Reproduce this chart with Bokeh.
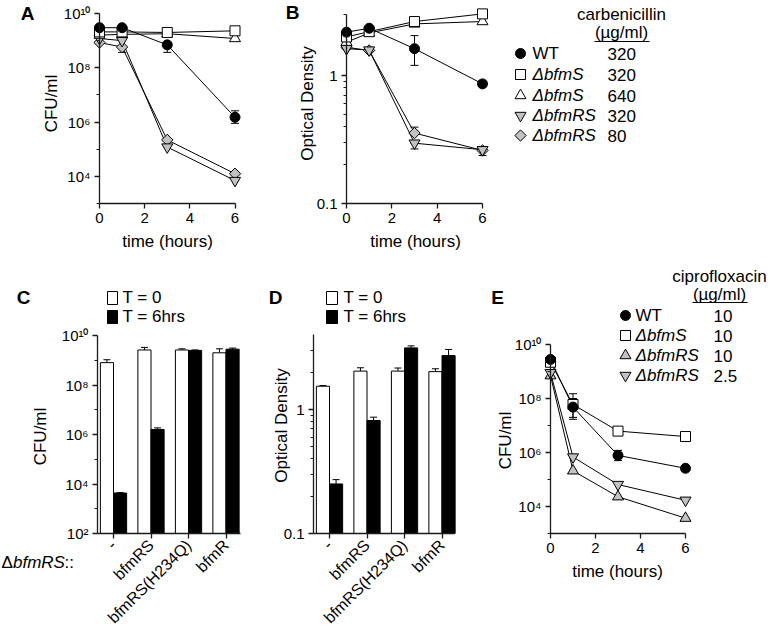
import math
from bokeh.plotting import figure
from bokeh.layouts import row, column
from bokeh.models import Range1d, LinearAxis, LogAxis, FixedTicker, Whisker, TeeHead, ColumnDataSource
from bokeh.core.properties import value
from bokeh.embed import file_html
from bokeh.resources import INLINE

FONT = "Liberation Sans"
GRAY = "#c2c2c2"
INK = "#1a1a1a"

# ---------------- data ----------------
time_h = [0, 1, 3, 6]

# Panel A: CFU/ml, carbenicillin
cfu_wt = [3.0e9, 3.0e9, 7.0e8, 1.5e6]
cfu_s320 = [2.1e9, 2.1e9, 2.0e9, 2.3e9]
cfu_s640 = [1.6e9, 1.7e9, 1.8e9, 1.2e9]
cfu_rs320 = [1.2e9, 1.0e9, 1.2e5, 7.0e3]
cfu_rs80 = [8.5e8, 5.8e8, 2.2e5, 1.25e4]
cfu_wt_lo = [None, None, 3.7e8, 9.0e5]
cfu_wt_hi = [None, None, None, 2.6e6]
cfu_rs80_lo = [None, 3.7e8, None, None]
cfu_rs80_hi = [None, None, None, None]

# Panel B: optical density, carbenicillin
od_wt = [2.18, 2.34, 1.62, 0.86]
od_s320 = [2.0, 2.2, 2.64, 3.03]
od_s640 = [1.82, 2.15, 2.53, 2.64]
od_rs320 = [1.62, 1.58, 0.296, 0.263]
od_rs80 = [1.66, 1.57, 0.355, 0.26]
od_wt_lo = [None, None, 1.2, None]
od_wt_hi = [None, None, 2.05, None]
od_rs320_lo = [None, None, 0.267, 0.237]
od_rs80_hi = [None, None, 0.395, None]

carb_strains = ["WT", "\u0394bfmS", "\u0394bfmS", "\u0394bfmRS", "\u0394bfmRS"]
carb_conc = ["320", "320", "640", "320", "80"]

# Panels C / D: complementation bars
strain_idx = [1, 2, 3, 4]
strain_labels = ["-", "bfmRS", "bfmRS(H234Q)", "bfmR"]
bar_cfu_t0 = [8.0e8, 2.6e9, 2.6e9, 2.0e9]
bar_cfu_t0_err = [1.05e9, 3.3e9, 2.9e9, 2.9e9]
bar_cfu_t6 = [4.3e3, 1.6e6, 2.5e9, 2.8e9]
bar_cfu_t6_err = [4.5e3, 1.85e6, 2.6e9, 3.1e9]
bar_od_t0 = [1.54, 2.04, 2.04, 2.02]
bar_od_t0_err = [1.56, 2.17, 2.16, 2.13]
bar_od_t6 = [0.251, 0.815, 3.14, 2.72]
bar_od_t6_err = [0.272, 0.867, 3.26, 3.05]

# Panel E: ciprofloxacin
cip_wt = [2.8e9, 4.8e7, 7.8e5, 2.6e5]
cip_s = [2.2e9, 6.0e7, 6.2e6, 3.9e6]
cip_rs10 = [7.0e8, 2.1e5, 2.3e4, 3.7e3]
cip_rs25 = [9.0e8, 6.8e5, 6.5e4, 1.7e4]
cip_wt_lo = [None, 1.7e7, 5.0e5, None]
cip_wt_hi = [None, 1.0e8, 1.2e6, None]
cip_s_lo = [None, 2.0e7, None, None]
cip_s_hi = [None, 1.5e8, None, None]
cip_strains = ["WT", "\u0394bfmS", "\u0394bfmRS", "\u0394bfmRS"]
cip_conc = ["10", "10", "10", "2.5"]

time_ticks = [0, 2, 4, 6]
cfu_ticks = [1e4, 1e6, 1e8, 1e10]
cfu_ticks_c = [1e2, 1e4, 1e6, 1e8, 1e10]
cfu_minor = [1e3, 1e5, 1e7, 1e9]
cfu_tick_text = {1e2: "10\u00b2", 1e4: "10\u2074", 1e6: "10\u2076", 1e8: "10\u2078", 1e10: "10\u00b9\u2070"}
od_ticks = [0.1, 1.0]
od_minor = [0.2, 0.3, 0.4, 0.5, 0.6, 0.7, 0.8, 0.9, 2.0, 3.0]
od_tick_text = {0.1: "0.1", 1.0: "1"}


# ---------------- helpers ----------------
def make_panel(left, top, w, h, xref, yref, ylog):
    (xv0, xp0), (xv1, xp1) = xref
    (yv0, yp0), (yv1, yp1) = yref
    sx = (xv1 - xv0) / (xp1 - xp0)
    sy = (yv1 - yv0) / (yp1 - yp0)

    def fx(px):
        return xv0 + (px - xp0) * sx

    def fy(py):
        v = yv0 + (py - yp0) * sy
        return 10 ** v if ylog else v

    p = figure(width=w, height=h,
               x_range=Range1d(fx(left), fx(left + w)),
               y_range=Range1d(fy(top + h), fy(top)),
               y_axis_type="log" if ylog else "linear",
               x_axis_location=None, y_axis_location=None,
               toolbar_location=None, output_backend="svg",
               min_border=0, outline_line_color=None,
               background_fill_color="white", border_fill_color="white")
    p.xgrid.visible = False
    p.ygrid.visible = False
    return p, fx, fy


def style_axis(ax, size="15px"):
    ax.axis_line_color = INK
    ax.axis_line_width = 1.3
    ax.major_tick_line_color = INK
    ax.major_tick_line_width = 1.3
    ax.minor_tick_line_color = INK
    ax.minor_tick_line_width = 1
    ax.major_tick_in = 0
    ax.major_tick_out = 5
    ax.minor_tick_in = 0
    ax.minor_tick_out = 3
    ax.major_label_text_font = FONT
    ax.major_label_text_font_size = size
    ax.major_label_text_color = "black"
    ax.major_label_standoff = 4


def txt(p, xs, ys, texts, size="17px", align="left", baseline="middle", style="normal", angle=0.0):
    p.text(x=xs, y=ys, text=texts, text_font=value(FONT), text_font_size=size,
           text_align=align, text_baseline=baseline, text_font_style=style,
           angle=angle, text_color="black")


def add_err(p, xs, ys, lo, hi, head=8, lower_head=True):
    b, l, u = [], [], []
    for x, y, a, c in zip(xs, ys, lo, hi):
        if a is None and c is None:
            continue
        b.append(x)
        l.append(a if a is not None else y)
        u.append(c if c is not None else y)
    if not b:
        return
    src = ColumnDataSource(dict(base=b, lower=l, upper=u))
    p.add_layout(Whisker(source=src, base="base", lower="lower", upper="upper",
                         line_color="black", line_width=1,
                         upper_head=TeeHead(size=head, line_color="black", line_width=1),
                         lower_head=TeeHead(size=head, line_color="black", line_width=1) if lower_head else None))


MARK = {
    "circle": dict(marker="circle", size=10, angle=0.0),
    "square": dict(marker="square", size=10, angle=0.0),
    "triangle": dict(marker="triangle", size=11, angle=0.0),
    "inverted_triangle": dict(marker="inverted_triangle", size=11, angle=0.0),
    "diamond": dict(marker="square", size=8, angle=math.pi / 4),
}


def mark(p, xs, ys, kind, fill):
    m = MARK[kind]
    p.scatter(xs, ys, marker=m["marker"], size=m["size"], angle=m["angle"],
              fill_color=fill, line_color="black", line_width=1)


def time_axes(p, fx, ybounds, yticks, yminor, ylabels, xfix):
    ya = LogAxis(fixed_location=0, bounds=ybounds,
                 ticker=FixedTicker(ticks=yticks, minor_ticks=yminor),
                 major_label_overrides=ylabels)
    style_axis(ya)
    p.add_layout(ya, "left")
    xa = LinearAxis(fixed_location=xfix, bounds=(0, 6),
                    ticker=FixedTicker(ticks=time_ticks, minor_ticks=[]))
    style_axis(xa)
    p.add_layout(xa, "below")


# ---------------- Panel A ----------------
pA, ax, ay = make_panel(0, 0, 258, 268, ((0, 99), (6, 234.5)), ((10, 13), (3, 203)), True)
time_axes(pA, ax, (1e3, 1e10), cfu_ticks, cfu_minor, cfu_tick_text, 1e3)
seriesA = [(cfu_rs80, "diamond", GRAY), (cfu_rs320, "inverted_triangle", GRAY),
           (cfu_s640, "triangle", "white"), (cfu_s320, "square", "white"), (cfu_wt, "circle", "black")]
for ys, k, f in seriesA:
    pA.line(time_h, ys, line_color="black", line_width=1)
add_err(pA, time_h, cfu_wt, cfu_wt_lo, cfu_wt_hi)
add_err(pA, time_h, cfu_rs80, cfu_rs80_lo, cfu_rs80_hi)
for ys, k, f in seriesA:
    mark(pA, time_h, ys, k, f)
txt(pA, [ax(27)], [ay(13)], ["A"], size="19px", align="center", style="bold")
txt(pA, [ax(51)], [ay(103)], ["CFU/ml"], align="center", angle=math.pi / 2)
txt(pA, [ax(167)], [ay(241)], ["time (hours)"], align="center")

# ---------------- Panel B ----------------
pB, bx, by = make_panel(258, 0, 250, 268, ((0, 346), (6, 482)), ((0, 75), (-1, 203)), True)
time_axes(pB, bx, (0.1, 3.0), od_ticks, od_minor, od_tick_text, 0.1)
seriesB = [(od_rs80, "diamond", GRAY), (od_rs320, "inverted_triangle", GRAY),
           (od_s640, "triangle", "white"), (od_s320, "square", "white"), (od_wt, "circle", "black")]
for ys, k, f in seriesB:
    pB.line(time_h, ys, line_color="black", line_width=1)
add_err(pB, time_h, od_wt, od_wt_lo, od_wt_hi)
add_err(pB, time_h, od_rs320, od_rs320_lo, [None] * 4)
add_err(pB, time_h, od_rs80, [None] * 4, od_rs80_hi)
for ys, k, f in seriesB:
    mark(pB, time_h, ys, k, f)
txt(pB, [bx(292)], [by(12)], ["B"], size="19px", align="center", style="bold")
txt(pB, [bx(307)], [by(103)], ["Optical Density"], align="center", angle=math.pi / 2)
txt(pB, [bx(415)], [by(241)], ["time (hours)"], align="center")

# ---------------- Legend for A/B ----------------
pL, lx, ly = make_panel(508, 0, 260, 268, ((0, 0), (1, 1)), ((0, 0), (1, 1)), False)
txt(pL, [621], [14], ["carbenicillin"], align="center")
txt(pL, [621], [32], ["(\u00b5g/ml)"], align="center")
pL.segment(x0=[594], y0=[41], x1=[649], y1=[41], line_color="black", line_width=1.2)
leg_rows = [53, 74, 95, 115, 135]
leg_marks = [("circle", "black"), ("square", "white"), ("triangle", "white"),
             ("inverted_triangle", GRAY), ("diamond", GRAY)]
for yy, (k, f) in zip(leg_rows, leg_marks):
    mark(pL, [520], [yy], k, f)
txt(pL, [532], [leg_rows[0]], [carb_strains[0]])
txt(pL, [532] * 4, leg_rows[1:], carb_strains[1:], style="italic")
txt(pL, [607] * 5, leg_rows, carb_conc)

# ---------------- Panel C ----------------
pC, cx, cy = make_panel(0, 268, 258, 366, ((1, 113), (2, 150.5)), ((10, 335), (2, 533)), True)
yaC = LogAxis(fixed_location=cx(97), bounds=(1e2, 1e10),
              ticker=FixedTicker(ticks=cfu_ticks_c, minor_ticks=cfu_minor),
              major_label_overrides=cfu_tick_text)
style_axis(yaC)
pC.add_layout(yaC, "left")
cat_text = {float(i): s for i, s in zip(strain_idx, strain_labels)}
xaC = LinearAxis(fixed_location=1e2, bounds=(cx(97), cx(240)),
                 ticker=FixedTicker(ticks=strain_idx, minor_ticks=[]),
                 major_label_overrides=cat_text, major_label_orientation=math.pi / 4)
style_axis(xaC, size="16px")
pC.add_layout(xaC, "below")
BW = 0.35
x_t0 = [i - BW / 2 for i in strain_idx]
x_t6 = [i + BW / 2 for i in strain_idx]
pC.vbar(x=x_t0, top=bar_cfu_t0, bottom=1e2, width=BW, fill_color="white", line_color="black", line_width=1)
pC.vbar(x=x_t6, top=bar_cfu_t6, bottom=1e2, width=BW, fill_color="black", line_color="black", line_width=1)
add_err(pC, x_t0, bar_cfu_t0, bar_cfu_t0, bar_cfu_t0_err, head=7, lower_head=False)
add_err(pC, x_t6, bar_cfu_t6, bar_cfu_t6, bar_cfu_t6_err, head=7, lower_head=False)
pC.quad(left=[cx(107)], right=[cx(117)], top=[cy(291)], bottom=[cy(304)], fill_color="white", line_color="black", line_width=1)
pC.quad(left=[cx(107)], right=[cx(117)], top=[cy(310)], bottom=[cy(323)], fill_color="black", line_color="black", line_width=1)
txt(pC, [cx(122), cx(122)], [cy(297), cy(316)], ["T = 0", "T = 6hrs"])
txt(pC, [cx(23)], [cy(297)], ["C"], size="19px", align="center", style="bold")
txt(pC, [cx(40)], [cy(436)], ["CFU/ml"], align="center", angle=math.pi / 2)
txt(pC, [cx(1)], [cy(562)], ["\u0394"])
txt(pC, [cx(12.5)], [cy(562)], ["bfmRS"], style="italic")
txt(pC, [cx(64)], [cy(562)], ["::"])

# ---------------- Panel D ----------------
pD, dx, dy = make_panel(258, 268, 227, 366, ((1, 329), (2, 366.5)), ((0, 409), (-1, 533)), True)
yaD = LogAxis(fixed_location=dx(313), bounds=(0.1, 4.0),
              ticker=FixedTicker(ticks=od_ticks, minor_ticks=od_minor),
              major_label_overrides=od_tick_text)
style_axis(yaD)
pD.add_layout(yaD, "left")
xaD = LinearAxis(fixed_location=0.1, bounds=(dx(313), dx(454)),
                 ticker=FixedTicker(ticks=strain_idx, minor_ticks=[]),
                 major_label_overrides=cat_text, major_label_orientation=math.pi / 4)
style_axis(xaD, size="16px")
pD.add_layout(xaD, "below")
pD.vbar(x=x_t0, top=bar_od_t0, bottom=0.1, width=BW, fill_color="white", line_color="black", line_width=1)
pD.vbar(x=x_t6, top=bar_od_t6, bottom=0.1, width=BW, fill_color="black", line_color="black", line_width=1)
add_err(pD, x_t0, bar_od_t0, bar_od_t0, bar_od_t0_err, head=7, lower_head=False)
add_err(pD, x_t6, bar_od_t6, bar_od_t6, bar_od_t6_err, head=7, lower_head=False)
pD.quad(left=[dx(326)], right=[dx(337)], top=[dy(291)], bottom=[dy(304)], fill_color="white", line_color="black", line_width=1)
pD.quad(left=[dx(326)], right=[dx(337)], top=[dy(310)], bottom=[dy(323)], fill_color="black", line_color="black", line_width=1)
txt(pD, [dx(343), dx(343)], [dy(297), dy(316)], ["T = 0", "T = 6hrs"])
txt(pD, [dx(275)], [dy(297)], ["D"], size="19px", align="center", style="bold")
txt(pD, [dx(281)], [dy(425)], ["Optical Density"], align="center", angle=math.pi / 2)

# ---------------- Panel E ----------------
pE, ex, ey = make_panel(485, 268, 283, 366, ((0, 550), (6, 685)), ((10, 344), (3, 533)), True)
time_axes(pE, ex, (1e3, 1e10), cfu_ticks, cfu_minor, cfu_tick_text, 1e3)
seriesE = [(cip_rs10, "triangle", GRAY), (cip_rs25, "inverted_triangle", GRAY),
           (cip_s, "square", "white"), (cip_wt, "circle", "black")]
for ys, k, f in seriesE:
    pE.line(time_h, ys, line_color="black", line_width=1)
add_err(pE, time_h, cip_s, cip_s_lo, cip_s_hi)
add_err(pE, time_h, cip_wt, cip_wt_lo, cip_wt_hi)
for ys, k, f in seriesE:
    mark(pE, time_h, ys, k, f)
txt(pE, [ex(497)], [ey(297)], ["E"], size="19px", align="center", style="bold")
txt(pE, [ex(505)], [ey(440)], ["CFU/ml"], align="center", angle=math.pi / 2)
txt(pE, [ex(617)], [ey(571)], ["time (hours)"], align="center")
txt(pE, [ex(719)], [ey(276)], ["ciprofloxacin"], align="center")
txt(pE, [ex(719)], [ey(294)], ["(\u00b5g/ml)"], align="center")
pE.segment(x0=[ex(692)], y0=[ey(302)], x1=[ex(747)], y1=[ey(302)], line_color="black", line_width=1.2)
leg_rows_e = [315, 335, 355, 375]
leg_marks_e = [("circle", "black"), ("square", "white"), ("triangle", GRAY), ("inverted_triangle", GRAY)]
for yy, (k, f) in zip(leg_rows_e, leg_marks_e):
    mark(pE, [ex(625)], [ey(yy)], k, f)
txt(pE, [ex(635)], [ey(leg_rows_e[0])], [cip_strains[0]])
txt(pE, [ex(635)] * 3, [ey(v) for v in leg_rows_e[1:]], cip_strains[1:], style="italic")
txt(pE, [ex(713)] * 4, [ey(v) for v in leg_rows_e], cip_conc)

layout = column(row(pA, pB, pL), row(pC, pD, pE))
open("out.html", "w").write(file_html(layout, INLINE))
